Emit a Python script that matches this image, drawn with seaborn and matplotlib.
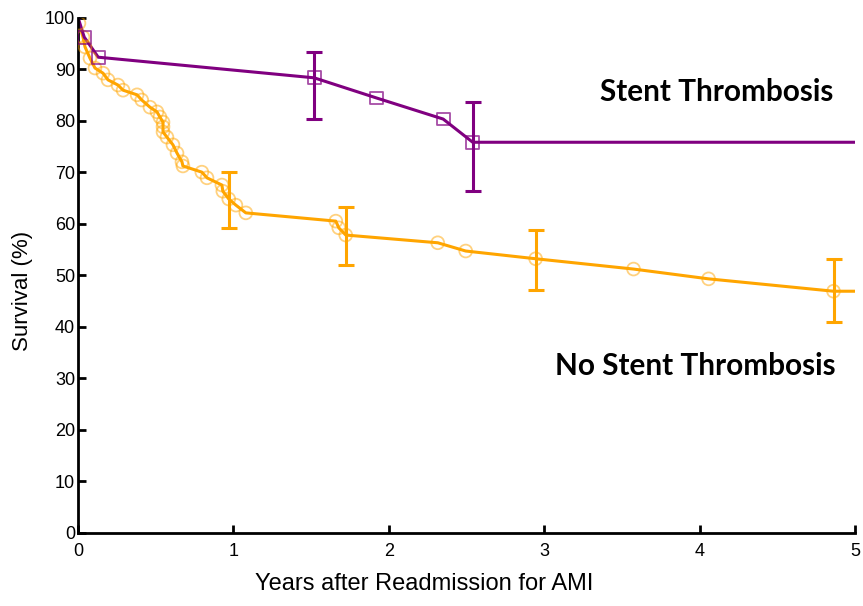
import numpy as np
import pandas as pd
import matplotlib
matplotlib.use("Agg")
import matplotlib.pyplot as plt
import seaborn as sns

# --- Data ---
st_years = [0, 0.04, 0.13, 1.52, 1.92, 2.35, 2.54, 5.0]
st_surv = [100, 96.2, 92.3, 88.3, 84.4, 80.3, 75.8, 75.8]
st_marker = [False, True, True, True, True, True, True, False]

nst_years = [0, 0.006, 0.032, 0.045, 0.077, 0.109, 0.161, 0.193, 0.257, 0.29,
             0.38, 0.41, 0.463, 0.508, 0.527, 0.547, 0.547, 0.547, 0.572, 0.611,
             0.637, 0.669, 0.675, 0.797, 0.830, 0.926, 0.932, 0.97, 1.016, 1.08,
             1.659, 1.678, 1.723, 2.315, 2.495, 2.945, 3.575, 4.058, 4.862, 5.0]
nst_surv = [100, 98.9, 96.2, 94.3, 92.1, 90.2, 89.2, 87.9, 86.9, 85.9,
            85.0, 84.0, 82.6, 81.7, 80.7, 79.7, 78.8, 77.8, 76.8, 75.3,
            73.7, 72.0, 71.2, 70.0, 68.9, 67.5, 66.3, 64.8, 63.6, 62.1,
            60.5, 59.2, 57.8, 56.3, 54.7, 53.2, 51.2, 49.3, 46.9, 46.9]

# confidence intervals at selected times
st_ci_x = [1.52, 2.54]
st_ci_mid = [88.3, 75.8]
st_ci_lo = [80.3, 66.3]
st_ci_hi = [93.3, 83.6]

nst_ci_x = [0.97, 1.723, 2.945, 4.862]
nst_ci_mid = [64.8, 57.8, 53.2, 46.9]
nst_ci_lo = [59.2, 52.0, 47.1, 40.9]
nst_ci_hi = [70.0, 63.2, 58.8, 53.2]

purple = "#800080"
orange = "#FFA500"

st_df = pd.DataFrame({"Years": st_years, "Survival": st_surv})
nst_df = pd.DataFrame({"Years": nst_years, "Survival": nst_surv})

sns.set_style("ticks")
plt.rcParams["font.family"] = ["Liberation Sans", "DejaVu Sans"]
plt.rcParams.update({"text.color": "black", "axes.labelcolor": "black",
                     "xtick.color": "black", "ytick.color": "black",
                     "axes.edgecolor": "black"})

fig = plt.figure(figsize=(8.63, 6.06), dpi=100)
ax = fig.add_axes([0.0904, 0.1205, 0.9003, 0.8506])

# --- Curves ---
sns.lineplot(data=nst_df, x="Years", y="Survival", sort=False, estimator=None,
             color=orange, linewidth=2.2, ax=ax)
sns.lineplot(data=st_df, x="Years", y="Survival", sort=False, estimator=None,
             color=purple, linewidth=2.2, ax=ax)

# open markers
sns.scatterplot(x=nst_years[1:-1], y=nst_surv[1:-1], marker="o", s=85,
                facecolor="none", edgecolor=orange, linewidth=1.3, alpha=0.5,
                ax=ax, zorder=3)
st_mx = [x for x, m in zip(st_years, st_marker) if m]
st_my = [y for y, m in zip(st_surv, st_marker) if m]
sns.scatterplot(x=st_mx, y=st_my, marker="s", s=85,
                facecolor="none", edgecolor=purple, linewidth=1.3, alpha=0.7,
                ax=ax, zorder=3)

# --- Error bars ---
ax.errorbar(st_ci_x, st_ci_mid,
            yerr=[np.subtract(st_ci_mid, st_ci_lo), np.subtract(st_ci_hi, st_ci_mid)],
            fmt="none", ecolor=purple, elinewidth=2.2, capsize=6, capthick=2.2)
ax.errorbar(nst_ci_x, nst_ci_mid,
            yerr=[np.subtract(nst_ci_mid, nst_ci_lo), np.subtract(nst_ci_hi, nst_ci_mid)],
            fmt="none", ecolor=orange, elinewidth=2.2, capsize=6, capthick=2.2)

# --- Labels ---
ax.text(4.86, 85.5, "Stent Thrombosis", ha="right", va="center", color="black",
        fontsize=21.4, fontweight="bold", family=["Lato", "DejaVu Sans"])
ax.text(4.875, 32.4, "No Stent Thrombosis", ha="right", va="center", color="black",
        fontsize=21.4, fontweight="bold", family=["Lato", "DejaVu Sans"])

ax.set_xlim(0, 5)
ax.set_ylim(0, 100)
ax.set_xticks(range(0, 6))
ax.set_yticks(range(0, 101, 10))
ax.tick_params(axis="both", direction="in", length=6, width=2, labelsize=13)
ax.tick_params(axis="y", pad=2)
ax.tick_params(axis="x", pad=7)
for side in ["left", "bottom"]:
    ax.spines[side].set_linewidth(2)
sns.despine(ax=ax)

ax.set_xlabel("Years after Readmission for AMI", fontsize=17)
ax.set_ylabel("Survival (%)", fontsize=16)
ax.xaxis.set_label_coords(0.445, -0.077)
ax.yaxis.set_label_coords(-0.058, 0.47)

fig.savefig("out.png", dpi=100)
